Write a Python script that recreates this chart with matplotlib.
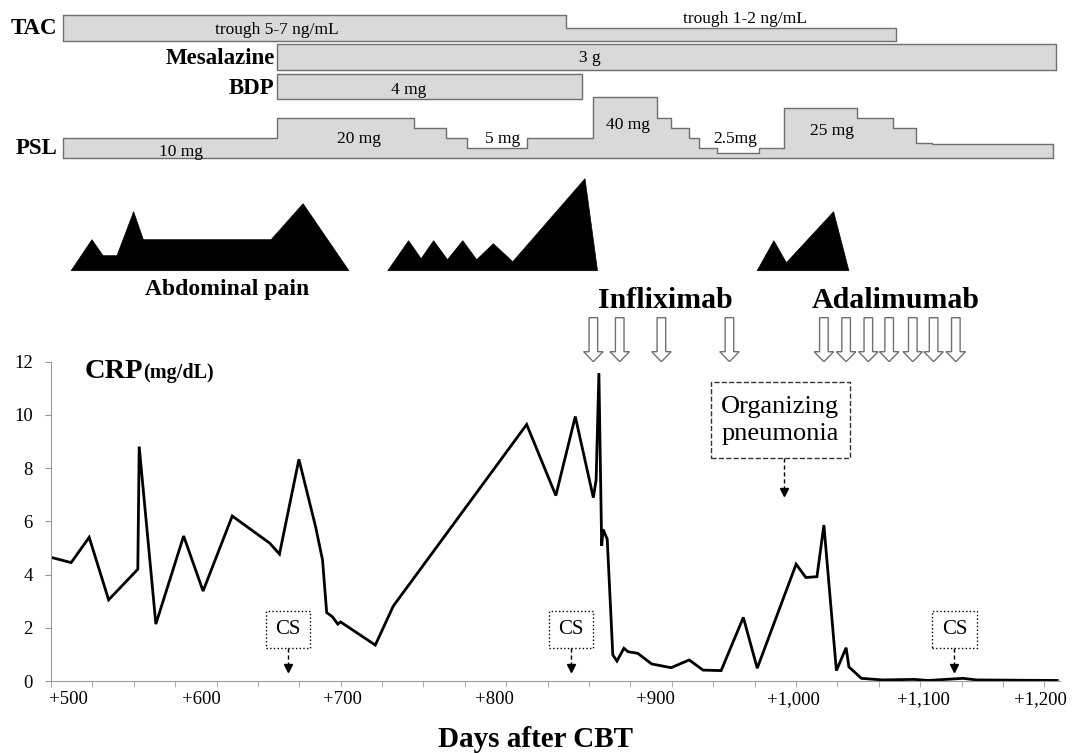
import numpy as np
import matplotlib.pyplot as plt
from matplotlib.patches import Polygon, Rectangle, FancyArrow

plt.rcParams['font.family'] = ['Liberation Serif', 'DejaVu Serif']

# CRP (mg/dL) by day after CBT
crp_day = [488, 502, 515, 529, 550, 551, 563, 583, 597, 618, 645, 652, 666, 678, 683,
           686, 690, 694, 696, 721, 734, 830, 851, 865, 878, 880, 882, 884, 885, 888,
           890, 892, 895, 900, 903, 910, 920, 934, 947, 957, 970, 986, 996, 1024, 1031,
           1039, 1044, 1053, 1060, 1062, 1071, 1086, 1109, 1119, 1144, 1154, 1212]
crp_val = [4.64, 4.45, 5.40, 3.05, 4.20, 8.81, 2.14, 5.45, 3.38, 6.20, 5.18, 4.77, 8.33, 5.80, 4.55,
           2.57, 2.42, 2.14, 2.22, 1.35, 2.82, 9.64, 6.97, 9.94, 6.89, 7.56, 11.57, 5.08, 5.70, 5.33,
           3.17, 0.98, 0.75, 1.23, 1.10, 1.04, 0.64, 0.50, 0.79, 0.41, 0.39, 2.39, 0.48, 4.39, 3.89,
           3.92, 5.86, 0.39, 1.25, 0.53, 0.10, 0.04, 0.06, 0.02, 0.10, 0.04, 0.02]

# drugs
tac_edges = [496, 858, 1096]
tac_text = ['trough 5-7 ng/mL', 'trough 1-2 ng/mL']
mesa_span = [650, 1211]
bdp_span = [650, 870]
psl_edges = [496, 650, 749, 772, 787, 830, 878, 924, 934, 947, 954, 967, 997, 1015,
             1068, 1094, 1110, 1122, 1209]
psl_dose = [10, 20, 15, 10, 5, 10, 40, 20, 15, 10, 5, 2.5, 5, 25, 20, 15, 7.5, 7]
psl_text = ['10 mg', '20 mg', '5 mg', '40 mg', '2.5mg', '25 mg']
psl_text_day = [581, 709, 813, 903, 980, 1050]

ifx_day = [878, 897, 927, 976]
ada_day = [1044, 1060, 1076, 1091, 1108, 1123, 1139]
cs_day = [658, 862, 1138]
op_day = 1015

# abdominal pain (day, intensity)
pain1_day = [502, 517, 525, 535, 547, 554, 646, 669, 702]
pain1_lvl = [0, 31, 15, 15, 59, 31, 31, 67, 0]
pain2_day = [730, 745, 754, 763, 773, 784, 794, 806, 820, 872, 881]
pain2_lvl = [0, 30, 12, 30, 11, 30, 11, 27, 9, 92, 0]
pain3_day = [996, 1008, 1017, 1051, 1062]
pain3_lvl = [0, 30, 8, 59, 0]

xtick_text = ['+500', '+600', '+700', '+800', '+900', '+1,000', '+1,100', '+1,200']
xtick_at = [500, 596, 697, 807, 923, 1022, 1116, 1200]   # where the original put them


def steps(edges, heights, base):
    xs = [edges[0]]
    ys = [base]
    for i, h in enumerate(heights):
        xs += [edges[i], edges[i + 1]]
        ys += [base - h, base - h]
    xs.append(edges[-1])
    ys.append(base)
    return np.column_stack([xs, ys])


def bar(ax, verts):
    ax.add_patch(Polygon(verts, closed=True, fc='#d9d9d9', ec='#6e6e6e', lw=1, joinstyle='round'))


fig = plt.figure(figsize=(10.74, 7.53), dpi=100)
L, W = 51 / 1074, 1009 / 1074
ax = fig.add_axes([L, 72 / 753, W, 319.3 / 753])
top = fig.add_axes([L, 391.3 / 753, W, 361.7 / 753], sharex=ax)

# ---- CRP
ax.plot(crp_day, crp_val, color='black', lw=2, solid_joinstyle='miter')
ax.set_xlim(487.5, 1214)
ax.set_ylim(0, 12)
ax.set_yticks(range(0, 13, 2))
ax.set_xticks(xtick_at, xtick_text)
ax.set_xticks(np.arange(487.5, 1214, 29.8), minor=True)
for s in ['top', 'right']:
    ax.spines[s].set_visible(False)
for s in ['left', 'bottom']:
    ax.spines[s].set_color('#9a9a9a')
ax.tick_params(axis='x', which='major', length=0, pad=7.5, labelsize=13.5)
ax.tick_params(axis='x', which='minor', length=4, color='#9a9a9a')
ax.tick_params(axis='y', length=4, color='#9a9a9a', pad=9, labelsize=13.5)
ax.set_xlabel('Days after CBT', fontsize=21, fontweight='bold')
ax.xaxis.set_label_coords(0.4804, -0.14)

t = ax.text(511.6, 11.38, 'CRP', fontsize=20.5, fontweight='bold', va='baseline')
ax.annotate('(mg/dL)', xy=(1, 11.38), xycoords=(t, 'data'), fontsize=14.5,
            fontweight='bold', va='baseline')

for d in cs_day:
    ax.add_patch(Rectangle((d - 16, 1.25), 32, 1.38, fill=False, ec='black', lw=1, ls=':'))
    ax.text(d, 1.94, 'CS', fontsize=15, ha='center', va='center')
    ax.plot([d, d], [1.25, 0.55], color='black', lw=1, ls=(0, (3, 2)))
    ax.plot(d, 0.5, marker='v', color='black', ms=6)

ax.add_patch(Rectangle((962.5, 8.37), 100.3, 2.88, fill=False, ec='#333333', lw=1, ls='--'))
ax.text(1012.7, 9.78, 'Organizing\npneumonia', fontsize=19, ha='center', va='center',
        linespacing=1.3)
ax.plot([op_day, op_day], [8.37, 7.2], color='black', lw=1, ls=(0, (3, 2)))
ax.plot(op_day, 7.1, marker='v', color='black', ms=6)

# ---- treatment panel (y in layout units, downwards)
top.set_ylim(361.7, 0)
top.axis('off')

bar(top, steps(tac_edges, [25.7, 13], 40.7))
bar(top, steps(mesa_span, [25.7], 70))
bar(top, steps(bdp_span, [25.3], 99.3))
psl_h = np.interp(psl_dose, [0, 25, 40], [0, 50, 61])
bar(top, steps(psl_edges, psl_h, 157.5))

top.text(650, 29.7, tac_text[0], fontsize=12.5, ha='center', va='center')
top.text(987, 19.3, tac_text[1], fontsize=12.5, ha='center', va='center')
top.text(875.5, 58.3, '3 g', fontsize=12.5, ha='center', va='center')
top.text(745, 90, '4 mg', fontsize=12.5, ha='center', va='center')
psl_text_y = [152, 139, 139, 125, 139, 131]
for s, x, y in zip(psl_text, psl_text_day, psl_text_y):
    top.text(x, y, s, fontsize=12.5, ha='center', va='center')

lab = dict(fontsize=16.5, fontweight='bold', ha='right', va='center')
top.text(tac_edges[0] - 4, 28.3, 'TAC', **lab)
top.text(mesa_span[0] - 1, 59, 'Mesalazine', **lab)
top.text(bdp_span[0] - 1.5, 89, 'BDP', **lab)
top.text(psl_edges[0] - 4, 148, 'PSL', **lab)

for dd, ll in [(pain1_day, pain1_lvl), (pain2_day, pain2_lvl), (pain3_day, pain3_lvl)]:
    v = np.column_stack([dd, 270.7 - np.array(ll)])
    top.add_patch(Polygon(v, closed=True, fc='black', ec='black', lw=0.5))
top.text(614.3, 290, 'Abdominal pain', fontsize=17, fontweight='bold', ha='center', va='center')
top.text(929.7, 301, 'Infliximab', fontsize=21.5, fontweight='bold', ha='center', va='center')
top.text(1096, 301, 'Adalimumab', fontsize=21.5, fontweight='bold', ha='center', va='center')

for d in ifx_day + ada_day:
    top.add_patch(FancyArrow(d, 317.7, 0, 44, width=6.2, head_width=14, head_length=10,
                             length_includes_head=True, fc='white', ec='#707070', lw=1))

plt.savefig('out.png', dpi=100)
